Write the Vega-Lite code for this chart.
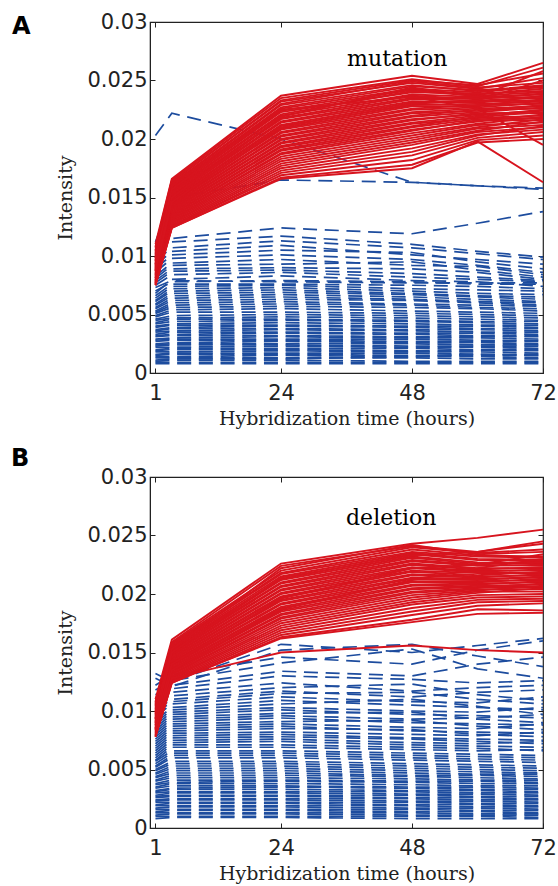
{
"$schema":"https://vega.github.io/schema/vega-lite/v6.json",
"background":"white",
"padding":{"left":10,"top":10,"right":2,"bottom":0},
"spacing":16,
"datasets":{
"times":[{"key":"a","t":1},{"key":"b","t":4},{"key":"c","t":24},{"key":"d","t":48},{"key":"e","t":60},{"key":"f","t":72}],
"Ared":[
{"i":1,"a":0.0110,"b":0.0166,"c":0.0237,"d":0.0254,"e":0.0247,"f":0.0265},
{"i":2,"a":0.0108,"b":0.0165,"c":0.0235,"d":0.0251,"e":0.0245,"f":0.0261},
{"i":3,"a":0.0107,"b":0.0163,"c":0.0233,"d":0.0250,"e":0.0246,"f":0.0256},
{"i":4,"a":0.0105,"b":0.0164,"c":0.0232,"d":0.0248,"e":0.0243,"f":0.0252},
{"i":5,"a":0.0104,"b":0.0162,"c":0.0230,"d":0.0249,"e":0.0244,"f":0.0248},
{"i":6,"a":0.0103,"b":0.0161,"c":0.0229,"d":0.0246,"e":0.0241,"f":0.0246},
{"i":7,"a":0.0102,"b":0.0160,"c":0.0227,"d":0.0245,"e":0.0242,"f":0.0244},
{"i":8,"a":0.0101,"b":0.0159,"c":0.0226,"d":0.0243,"e":0.0240,"f":0.0245},
{"i":9,"a":0.0100,"b":0.0158,"c":0.0224,"d":0.0242,"e":0.0238,"f":0.0243},
{"i":10,"a":0.0099,"b":0.0157,"c":0.0223,"d":0.0240,"e":0.0239,"f":0.0241},
{"i":11,"a":0.0098,"b":0.0156,"c":0.0221,"d":0.0241,"e":0.0237,"f":0.0240},
{"i":12,"a":0.0097,"b":0.0155,"c":0.0220,"d":0.0238,"e":0.0236,"f":0.0238},
{"i":13,"a":0.0096,"b":0.0154,"c":0.0218,"d":0.0237,"e":0.0234,"f":0.0239},
{"i":14,"a":0.0096,"b":0.0153,"c":0.0217,"d":0.0235,"e":0.0235,"f":0.0236},
{"i":15,"a":0.0095,"b":0.0152,"c":0.0215,"d":0.0234,"e":0.0233,"f":0.0235},
{"i":16,"a":0.0094,"b":0.0151,"c":0.0214,"d":0.0232,"e":0.0231,"f":0.0237},
{"i":17,"a":0.0093,"b":0.0150,"c":0.0212,"d":0.0231,"e":0.0232,"f":0.0233},
{"i":18,"a":0.0093,"b":0.0149,"c":0.0211,"d":0.0229,"e":0.0230,"f":0.0232},
{"i":19,"a":0.0092,"b":0.0148,"c":0.0209,"d":0.0228,"e":0.0228,"f":0.0234},
{"i":20,"a":0.0091,"b":0.0147,"c":0.0208,"d":0.0226,"e":0.0229,"f":0.0230},
{"i":21,"a":0.0090,"b":0.0146,"c":0.0206,"d":0.0225,"e":0.0227,"f":0.0231},
{"i":22,"a":0.0090,"b":0.0145,"c":0.0205,"d":0.0223,"e":0.0226,"f":0.0228},
{"i":23,"a":0.0089,"b":0.0144,"c":0.0203,"d":0.0222,"e":0.0224,"f":0.0229},
{"i":24,"a":0.0088,"b":0.0143,"c":0.0202,"d":0.0220,"e":0.0225,"f":0.0226},
{"i":25,"a":0.0087,"b":0.0142,"c":0.0200,"d":0.0219,"e":0.0223,"f":0.0227},
{"i":26,"a":0.0087,"b":0.0141,"c":0.0199,"d":0.0217,"e":0.0221,"f":0.0224},
{"i":27,"a":0.0086,"b":0.0140,"c":0.0197,"d":0.0216,"e":0.0222,"f":0.0222},
{"i":28,"a":0.0085,"b":0.0139,"c":0.0196,"d":0.0214,"e":0.0220,"f":0.0225},
{"i":29,"a":0.0084,"b":0.0138,"c":0.0194,"d":0.0213,"e":0.0218,"f":0.0220},
{"i":30,"a":0.0084,"b":0.0137,"c":0.0193,"d":0.0211,"e":0.0219,"f":0.0223},
{"i":31,"a":0.0083,"b":0.0136,"c":0.0191,"d":0.0210,"e":0.0217,"f":0.0218},
{"i":32,"a":0.0082,"b":0.0135,"c":0.0190,"d":0.0208,"e":0.0215,"f":0.0221},
{"i":33,"a":0.0081,"b":0.0134,"c":0.0188,"d":0.0207,"e":0.0216,"f":0.0216},
{"i":34,"a":0.0081,"b":0.0133,"c":0.0187,"d":0.0205,"e":0.0213,"f":0.0219},
{"i":35,"a":0.0080,"b":0.0132,"c":0.0185,"d":0.0203,"e":0.0212,"f":0.0214},
{"i":36,"a":0.0079,"b":0.0131,"c":0.0183,"d":0.0201,"e":0.0210,"f":0.0217},
{"i":37,"a":0.0079,"b":0.0130,"c":0.0181,"d":0.0199,"e":0.0209,"f":0.0212},
{"i":38,"a":0.0078,"b":0.0129,"c":0.0179,"d":0.0197,"e":0.0207,"f":0.0215},
{"i":39,"a":0.0078,"b":0.0128,"c":0.0177,"d":0.0195,"e":0.0206,"f":0.0210},
{"i":40,"a":0.0077,"b":0.0127,"c":0.0175,"d":0.0192,"e":0.0204,"f":0.0208},
{"i":41,"a":0.0077,"b":0.0126,"c":0.0173,"d":0.0189,"e":0.0203,"f":0.0211},
{"i":42,"a":0.0076,"b":0.0125,"c":0.0171,"d":0.0186,"e":0.0201,"f":0.0206},
{"i":43,"a":0.0076,"b":0.0125,"c":0.0169,"d":0.0182,"e":0.0199,"f":0.0203},
{"i":44,"a":0.0075,"b":0.0124,"c":0.0167,"d":0.0178,"e":0.0197,"f":0.0200},
{"i":45,"a":0.0075,"b":0.0124,"c":0.0166,"d":0.0175,"e":0.0198,"f":0.0163},
{"i":46,"a":0.0092,"b":0.0150,"c":0.0219,"d":0.0244,"e":0.0236,"f":0.0258},
{"i":47,"a":0.0098,"b":0.0157,"c":0.0225,"d":0.0236,"e":0.0226,"f":0.0195},
{"i":48,"a":0.0088,"b":0.0146,"c":0.0210,"d":0.0230,"e":0.0233,"f":0.0250}
],
"Ablue":[
{"i":1,"a":0.0203,"b":0.0222,"c":0.0200,"d":0.0163,"e":0.0160,"f":0.0157},
{"i":2,"a":0.0112,"b":0.0150,"c":0.0165,"d":0.0163,"e":0.0160,"f":0.0158},
{"i":3,"a":0.0105,"b":0.0115,"c":0.0124,"d":0.0119,"e":0.0128,"f":0.0138},
{"i":4,"a":0.0100,"b":0.0112,"c":0.0117,"d":0.0110,"e":0.0104,"f":0.0099},
{"i":5,"a":0.0096,"b":0.0107,"c":0.0113,"d":0.0107,"e":0.0102,"f":0.0097},
{"i":6,"a":0.0092,"b":0.0104,"c":0.0109,"d":0.0101,"e":0.0097,"f":0.0093},
{"i":7,"a":0.0089,"b":0.0101,"c":0.0105,"d":0.0103,"e":0.0095,"f":0.0089},
{"i":8,"a":0.0086,"b":0.0098,"c":0.0101,"d":0.0097,"e":0.0092,"f":0.0086},
{"i":9,"a":0.0083,"b":0.0094,"c":0.0097,"d":0.0092,"e":0.0091,"f":0.0084},
{"i":10,"a":0.0081,"b":0.0092,"c":0.0093,"d":0.0095,"e":0.0088,"f":0.0082},
{"i":11,"a":0.0079,"b":0.0089,"c":0.0090,"d":0.0089,"e":0.0086,"f":0.0080},
{"i":12,"a":0.0077,"b":0.0087,"c":0.0088,"d":0.0085,"e":0.0082,"f":0.0079},
{"i":13,"a":0.0075,"b":0.0084,"c":0.0086,"d":0.0082,"e":0.0080,"f":0.0078},
{"i":14,"a":0.0073,"b":0.0079,"c":0.0078,"d":0.0077,"e":0.0077,"f":0.0077},
{"i":15,"a":0.0070,"b":0.0078,"c":0.0079,"d":0.0078,"e":0.0076,"f":0.0076},
{"i":16,"a":0.0068,"b":0.0080,"c":0.0083,"d":0.0079,"e":0.0078,"f":0.0074},
{"i":17,"a":0.0066,"b":0.0076,"c":0.0076,"d":0.0075,"e":0.0074,"f":0.0072},
{"i":18,"a":0.0064,"b":0.0074,"c":0.0075,"d":0.0072,"e":0.0071,"f":0.0070},
{"i":19,"a":0.0062,"b":0.0072,"c":0.0073,"d":0.0070,"e":0.0068,"f":0.0067},
{"i":20,"a":0.0061,"b":0.0070,"c":0.0071,"d":0.0068,"e":0.0066,"f":0.0065},
{"i":21,"a":0.0059,"b":0.0068,"c":0.0069,"d":0.0067,"e":0.0065,"f":0.0063},
{"i":22,"a":0.0058,"b":0.0066,"c":0.0067,"d":0.0065,"e":0.0063,"f":0.0061},
{"i":23,"a":0.0056,"b":0.0064,"c":0.0065,"d":0.0063,"e":0.0061,"f":0.0060},
{"i":24,"a":0.0055,"b":0.0062,"c":0.0063,"d":0.0062,"e":0.0060,"f":0.0058},
{"i":25,"a":0.0053,"b":0.0060,"c":0.0061,"d":0.0059,"e":0.0058,"f":0.0057},
{"i":26,"a":0.0052,"b":0.0058,"c":0.0059,"d":0.0058,"e":0.0056,"f":0.0055},
{"i":27,"a":0.0051,"b":0.0056,"c":0.0057,"d":0.0056,"e":0.0055,"f":0.0053},
{"i":28,"a":0.0049,"b":0.0054,"c":0.0055,"d":0.0053,"e":0.0052,"f":0.0051},
{"i":29,"a":0.0048,"b":0.0052,"c":0.0052,"d":0.0051,"e":0.0050,"f":0.0049},
{"i":30,"a":0.0046,"b":0.0049,"c":0.0050,"d":0.0049,"e":0.0048,"f":0.0047},
{"i":31,"a":0.0045,"b":0.0047,"c":0.0048,"d":0.0047,"e":0.0046,"f":0.0045},
{"i":32,"a":0.0043,"b":0.0046,"c":0.0046,"d":0.0045,"e":0.0044,"f":0.0044},
{"i":33,"a":0.0042,"b":0.0044,"c":0.0045,"d":0.0044,"e":0.0043,"f":0.0042},
{"i":34,"a":0.0040,"b":0.0042,"c":0.0043,"d":0.0042,"e":0.0041,"f":0.0041},
{"i":35,"a":0.0039,"b":0.0041,"c":0.0041,"d":0.0040,"e":0.0040,"f":0.0039},
{"i":36,"a":0.0037,"b":0.0039,"c":0.0040,"d":0.0039,"e":0.0038,"f":0.0038},
{"i":37,"a":0.0036,"b":0.0038,"c":0.0038,"d":0.0037,"e":0.0037,"f":0.0036},
{"i":38,"a":0.0035,"b":0.0036,"c":0.0037,"d":0.0036,"e":0.0035,"f":0.0035},
{"i":39,"a":0.0033,"b":0.0035,"c":0.0035,"d":0.0034,"e":0.0034,"f":0.0033},
{"i":40,"a":0.0032,"b":0.0033,"c":0.0034,"d":0.0033,"e":0.0032,"f":0.0032},
{"i":41,"a":0.0031,"b":0.0032,"c":0.0032,"d":0.0031,"e":0.0031,"f":0.0031},
{"i":42,"a":0.0029,"b":0.0030,"c":0.0031,"d":0.0030,"e":0.0030,"f":0.0029},
{"i":43,"a":0.0028,"b":0.0029,"c":0.0029,"d":0.0029,"e":0.0028,"f":0.0028},
{"i":44,"a":0.0027,"b":0.0028,"c":0.0028,"d":0.0027,"e":0.0027,"f":0.0027},
{"i":45,"a":0.0025,"b":0.0026,"c":0.0027,"d":0.0026,"e":0.0026,"f":0.0025},
{"i":46,"a":0.0024,"b":0.0025,"c":0.0025,"d":0.0025,"e":0.0024,"f":0.0024},
{"i":47,"a":0.0023,"b":0.0024,"c":0.0024,"d":0.0023,"e":0.0023,"f":0.0023},
{"i":48,"a":0.0022,"b":0.0022,"c":0.0023,"d":0.0022,"e":0.0022,"f":0.0021},
{"i":49,"a":0.0020,"b":0.0021,"c":0.0021,"d":0.0021,"e":0.0020,"f":0.0020},
{"i":50,"a":0.0019,"b":0.0020,"c":0.0020,"d":0.0019,"e":0.0019,"f":0.0019},
{"i":51,"a":0.0018,"b":0.0018,"c":0.0019,"d":0.0018,"e":0.0018,"f":0.0017},
{"i":52,"a":0.0016,"b":0.0017,"c":0.0017,"d":0.0017,"e":0.0016,"f":0.0016},
{"i":53,"a":0.0015,"b":0.0016,"c":0.0016,"d":0.0015,"e":0.0015,"f":0.0015},
{"i":54,"a":0.0014,"b":0.0014,"c":0.0015,"d":0.0014,"e":0.0014,"f":0.0013},
{"i":55,"a":0.0013,"b":0.0013,"c":0.0013,"d":0.0013,"e":0.0012,"f":0.0012},
{"i":56,"a":0.0011,"b":0.0012,"c":0.0012,"d":0.0014,"e":0.0016,"f":0.0015},
{"i":57,"a":0.0010,"b":0.0011,"c":0.0011,"d":0.0010,"e":0.0010,"f":0.0010},
{"i":58,"a":0.0009,"b":0.0009,"c":0.0009,"d":0.0009,"e":0.0009,"f":0.0009},
{"i":59,"a":0.0008,"b":0.0008,"c":0.0008,"d":0.0008,"e":0.0008,"f":0.0008}
],
"Bred":[
{"i":1,"a":0.0110,"b":0.0161,"c":0.0226,"d":0.0243,"e":0.0248,"f":0.0255},
{"i":2,"a":0.0108,"b":0.0159,"c":0.0224,"d":0.0241,"e":0.0236,"f":0.0243},
{"i":3,"a":0.0107,"b":0.0158,"c":0.0220,"d":0.0240,"e":0.0235,"f":0.0238},
{"i":4,"a":0.0106,"b":0.0157,"c":0.0218,"d":0.0238,"e":0.0233,"f":0.0232},
{"i":5,"a":0.0105,"b":0.0156,"c":0.0217,"d":0.0236,"e":0.0232,"f":0.0231},
{"i":6,"a":0.0104,"b":0.0155,"c":0.0215,"d":0.0235,"e":0.0230,"f":0.0229},
{"i":7,"a":0.0103,"b":0.0154,"c":0.0213,"d":0.0234,"e":0.0229,"f":0.0228},
{"i":8,"a":0.0102,"b":0.0153,"c":0.0212,"d":0.0232,"e":0.0227,"f":0.0226},
{"i":9,"a":0.0101,"b":0.0152,"c":0.0210,"d":0.0231,"e":0.0226,"f":0.0227},
{"i":10,"a":0.0100,"b":0.0151,"c":0.0209,"d":0.0229,"e":0.0225,"f":0.0224},
{"i":11,"a":0.0099,"b":0.0150,"c":0.0207,"d":0.0228,"e":0.0224,"f":0.0225},
{"i":12,"a":0.0098,"b":0.0149,"c":0.0206,"d":0.0226,"e":0.0222,"f":0.0222},
{"i":13,"a":0.0097,"b":0.0148,"c":0.0204,"d":0.0225,"e":0.0221,"f":0.0223},
{"i":14,"a":0.0097,"b":0.0147,"c":0.0203,"d":0.0223,"e":0.0220,"f":0.0220},
{"i":15,"a":0.0096,"b":0.0146,"c":0.0201,"d":0.0222,"e":0.0219,"f":0.0221},
{"i":16,"a":0.0095,"b":0.0145,"c":0.0200,"d":0.0220,"e":0.0218,"f":0.0218},
{"i":17,"a":0.0094,"b":0.0144,"c":0.0198,"d":0.0219,"e":0.0216,"f":0.0219},
{"i":18,"a":0.0094,"b":0.0143,"c":0.0197,"d":0.0217,"e":0.0215,"f":0.0216},
{"i":19,"a":0.0093,"b":0.0142,"c":0.0195,"d":0.0216,"e":0.0214,"f":0.0217},
{"i":20,"a":0.0092,"b":0.0141,"c":0.0194,"d":0.0214,"e":0.0213,"f":0.0214},
{"i":21,"a":0.0091,"b":0.0140,"c":0.0192,"d":0.0213,"e":0.0212,"f":0.0215},
{"i":22,"a":0.0091,"b":0.0139,"c":0.0191,"d":0.0211,"e":0.0211,"f":0.0212},
{"i":23,"a":0.0090,"b":0.0138,"c":0.0189,"d":0.0210,"e":0.0210,"f":0.0213},
{"i":24,"a":0.0089,"b":0.0137,"c":0.0188,"d":0.0208,"e":0.0209,"f":0.0210},
{"i":25,"a":0.0088,"b":0.0136,"c":0.0186,"d":0.0207,"e":0.0208,"f":0.0211},
{"i":26,"a":0.0088,"b":0.0135,"c":0.0185,"d":0.0205,"e":0.0207,"f":0.0208},
{"i":27,"a":0.0087,"b":0.0134,"c":0.0183,"d":0.0204,"e":0.0206,"f":0.0206},
{"i":28,"a":0.0086,"b":0.0133,"c":0.0182,"d":0.0202,"e":0.0205,"f":0.0209},
{"i":29,"a":0.0085,"b":0.0132,"c":0.0180,"d":0.0201,"e":0.0204,"f":0.0204},
{"i":30,"a":0.0085,"b":0.0131,"c":0.0179,"d":0.0199,"e":0.0203,"f":0.0207},
{"i":31,"a":0.0084,"b":0.0130,"c":0.0177,"d":0.0197,"e":0.0202,"f":0.0202},
{"i":32,"a":0.0083,"b":0.0129,"c":0.0175,"d":0.0195,"e":0.0201,"f":0.0205},
{"i":33,"a":0.0082,"b":0.0128,"c":0.0173,"d":0.0193,"e":0.0199,"f":0.0200},
{"i":34,"a":0.0081,"b":0.0127,"c":0.0171,"d":0.0191,"e":0.0197,"f":0.0198},
{"i":35,"a":0.0080,"b":0.0126,"c":0.0169,"d":0.0188,"e":0.0195,"f":0.0196},
{"i":36,"a":0.0079,"b":0.0125,"c":0.0167,"d":0.0185,"e":0.0193,"f":0.0194},
{"i":37,"a":0.0079,"b":0.0124,"c":0.0165,"d":0.0182,"e":0.0190,"f":0.0192},
{"i":38,"a":0.0078,"b":0.0124,"c":0.0163,"d":0.0178,"e":0.0187,"f":0.0186},
{"i":39,"a":0.0078,"b":0.0125,"c":0.0162,"d":0.0176,"e":0.0183,"f":0.0184},
{"i":40,"a":0.0085,"b":0.0128,"c":0.0150,"d":0.0156,"e":0.0152,"f":0.0150},
{"i":41,"a":0.0099,"b":0.0153,"c":0.0222,"d":0.0242,"e":0.0234,"f":0.0236},
{"i":42,"a":0.0093,"b":0.0150,"c":0.0214,"d":0.0233,"e":0.0236,"f":0.0245},
{"i":43,"a":0.0090,"b":0.0140,"c":0.0196,"d":0.0222,"e":0.0225,"f":0.0234},
{"i":44,"a":0.0084,"b":0.0135,"c":0.0187,"d":0.0212,"e":0.0222,"f":0.0230}
],
"Bblue":[
{"i":1,"a":0.0132,"b":0.0125,"c":0.0157,"d":0.0150,"e":0.0156,"f":0.0162},
{"i":2,"a":0.0128,"b":0.0121,"c":0.0152,"d":0.0157,"e":0.0147,"f":0.0138},
{"i":3,"a":0.0122,"b":0.0131,"c":0.0146,"d":0.0140,"e":0.0152,"f":0.0160},
{"i":4,"a":0.0118,"b":0.0126,"c":0.0141,"d":0.0153,"e":0.0136,"f":0.0128},
{"i":5,"a":0.0114,"b":0.0122,"c":0.0134,"d":0.0130,"e":0.0140,"f":0.0146},
{"i":6,"a":0.0110,"b":0.0119,"c":0.0130,"d":0.0127,"e":0.0124,"f":0.0126},
{"i":7,"a":0.0106,"b":0.0116,"c":0.0124,"d":0.0117,"e":0.0120,"f":0.0122},
{"i":8,"a":0.0104,"b":0.0113,"c":0.0120,"d":0.0123,"e":0.0114,"f":0.0109},
{"i":9,"a":0.0101,"b":0.0110,"c":0.0117,"d":0.0112,"e":0.0116,"f":0.0118},
{"i":10,"a":0.0098,"b":0.0108,"c":0.0115,"d":0.0116,"e":0.0110,"f":0.0106},
{"i":11,"a":0.0095,"b":0.0106,"c":0.0112,"d":0.0108,"e":0.0107,"f":0.0112},
{"i":12,"a":0.0092,"b":0.0103,"c":0.0109,"d":0.0105,"e":0.0103,"f":0.0101},
{"i":13,"a":0.0090,"b":0.0101,"c":0.0106,"d":0.0110,"e":0.0104,"f":0.0097},
{"i":14,"a":0.0088,"b":0.0099,"c":0.0103,"d":0.0100,"e":0.0099,"f":0.0103},
{"i":15,"a":0.0086,"b":0.0097,"c":0.0101,"d":0.0097,"e":0.0096,"f":0.0094},
{"i":16,"a":0.0084,"b":0.0095,"c":0.0098,"d":0.0099,"e":0.0093,"f":0.0090},
{"i":17,"a":0.0082,"b":0.0093,"c":0.0096,"d":0.0093,"e":0.0094,"f":0.0097},
{"i":18,"a":0.0080,"b":0.0091,"c":0.0094,"d":0.0090,"e":0.0089,"f":0.0088},
{"i":19,"a":0.0078,"b":0.0089,"c":0.0091,"d":0.0092,"e":0.0087,"f":0.0084},
{"i":20,"a":0.0076,"b":0.0087,"c":0.0089,"d":0.0086,"e":0.0085,"f":0.0089},
{"i":21,"a":0.0074,"b":0.0085,"c":0.0087,"d":0.0083,"e":0.0082,"f":0.0081},
{"i":22,"a":0.0072,"b":0.0083,"c":0.0085,"d":0.0084,"e":0.0080,"f":0.0078},
{"i":23,"a":0.0070,"b":0.0081,"c":0.0082,"d":0.0080,"e":0.0079,"f":0.0082},
{"i":24,"a":0.0068,"b":0.0079,"c":0.0080,"d":0.0077,"e":0.0076,"f":0.0075},
{"i":25,"a":0.0066,"b":0.0077,"c":0.0078,"d":0.0076,"e":0.0074,"f":0.0072},
{"i":26,"a":0.0064,"b":0.0075,"c":0.0076,"d":0.0073,"e":0.0072,"f":0.0074},
{"i":27,"a":0.0062,"b":0.0073,"c":0.0074,"d":0.0071,"e":0.0070,"f":0.0069},
{"i":28,"a":0.0060,"b":0.0071,"c":0.0071,"d":0.0069,"e":0.0068,"f":0.0066},
{"i":29,"a":0.0058,"b":0.0069,"c":0.0069,"d":0.0067,"e":0.0066,"f":0.0067},
{"i":30,"a":0.0057,"b":0.0066,"c":0.0066,"d":0.0064,"e":0.0063,"f":0.0062},
{"i":31,"a":0.0055,"b":0.0064,"c":0.0064,"d":0.0062,"e":0.0061,"f":0.0060},
{"i":32,"a":0.0053,"b":0.0062,"c":0.0062,"d":0.0060,"e":0.0059,"f":0.0058},
{"i":33,"a":0.0052,"b":0.0060,"c":0.0060,"d":0.0058,"e":0.0057,"f":0.0056},
{"i":34,"a":0.0050,"b":0.0057,"c":0.0057,"d":0.0055,"e":0.0054,"f":0.0053},
{"i":35,"a":0.0049,"b":0.0055,"c":0.0055,"d":0.0053,"e":0.0052,"f":0.0051},
{"i":36,"a":0.0047,"b":0.0053,"c":0.0053,"d":0.0051,"e":0.0050,"f":0.0049},
{"i":37,"a":0.0046,"b":0.0051,"c":0.0051,"d":0.0049,"e":0.0048,"f":0.0047},
{"i":38,"a":0.0044,"b":0.0049,"c":0.0049,"d":0.0047,"e":0.0046,"f":0.0046},
{"i":39,"a":0.0043,"b":0.0047,"c":0.0047,"d":0.0045,"e":0.0045,"f":0.0044},
{"i":40,"a":0.0041,"b":0.0045,"c":0.0045,"d":0.0044,"e":0.0043,"f":0.0042},
{"i":41,"a":0.0040,"b":0.0043,"c":0.0043,"d":0.0042,"e":0.0041,"f":0.0041},
{"i":42,"a":0.0038,"b":0.0041,"c":0.0041,"d":0.0040,"e":0.0040,"f":0.0039},
{"i":43,"a":0.0037,"b":0.0039,"c":0.0040,"d":0.0039,"e":0.0038,"f":0.0038},
{"i":44,"a":0.0035,"b":0.0038,"c":0.0038,"d":0.0037,"e":0.0036,"f":0.0036},
{"i":45,"a":0.0034,"b":0.0036,"c":0.0036,"d":0.0035,"e":0.0035,"f":0.0034},
{"i":46,"a":0.0032,"b":0.0034,"c":0.0035,"d":0.0034,"e":0.0033,"f":0.0033},
{"i":47,"a":0.0031,"b":0.0033,"c":0.0033,"d":0.0032,"e":0.0032,"f":0.0031},
{"i":48,"a":0.0030,"b":0.0031,"c":0.0031,"d":0.0031,"e":0.0030,"f":0.0030},
{"i":49,"a":0.0028,"b":0.0030,"c":0.0030,"d":0.0029,"e":0.0029,"f":0.0028},
{"i":50,"a":0.0027,"b":0.0028,"c":0.0028,"d":0.0028,"e":0.0027,"f":0.0027},
{"i":51,"a":0.0026,"b":0.0027,"c":0.0027,"d":0.0026,"e":0.0026,"f":0.0025},
{"i":52,"a":0.0024,"b":0.0025,"c":0.0025,"d":0.0025,"e":0.0024,"f":0.0024},
{"i":53,"a":0.0023,"b":0.0024,"c":0.0024,"d":0.0023,"e":0.0023,"f":0.0022},
{"i":54,"a":0.0022,"b":0.0022,"c":0.0022,"d":0.0022,"e":0.0021,"f":0.0021},
{"i":55,"a":0.0020,"b":0.0021,"c":0.0021,"d":0.0020,"e":0.0020,"f":0.0019},
{"i":56,"a":0.0019,"b":0.0019,"c":0.0019,"d":0.0019,"e":0.0018,"f":0.0018},
{"i":57,"a":0.0017,"b":0.0018,"c":0.0018,"d":0.0017,"e":0.0017,"f":0.0016},
{"i":58,"a":0.0016,"b":0.0016,"c":0.0016,"d":0.0016,"e":0.0015,"f":0.0015},
{"i":59,"a":0.0014,"b":0.0015,"c":0.0015,"d":0.0014,"e":0.0014,"f":0.0013},
{"i":60,"a":0.0013,"b":0.0013,"c":0.0013,"d":0.0013,"e":0.0012,"f":0.0012},
{"i":61,"a":0.0011,"b":0.0012,"c":0.0012,"d":0.0011,"e":0.0011,"f":0.0011},
{"i":62,"a":0.0010,"b":0.0010,"c":0.0010,"d":0.0010,"e":0.0010,"f":0.0009},
{"i":63,"a":0.0008,"b":0.0009,"c":0.0009,"d":0.0008,"e":0.0008,"f":0.0008}
]
},
"vconcat":[
{
"width":393,"height":351,
"title":{"text":"A","dx":-138,"dy":32},
"layer":[
{"data":{"name":"Ablue"},
 "transform":[{"fold":["a","b","c","d","e","f"],"as":["key","v"]},{"lookup":"key","from":{"data":{"name":"times"},"key":"key","fields":["t"]}}],
 "mark":{"type":"line","stroke":"#1d4c9e","strokeWidth":1.7,"strokeDash":[14,7.7]},
 "encoding":{
  "x":{"field":"t","type":"quantitative","scale":{"domain":[0,72],"nice":false,"zero":false},"axis":{"values":[1,24,48,72],"format":"d","title":"Hybridization time (hours)","tickSize":-5,"labelPadding":14.5,"titlePadding":6}},
  "y":{"field":"v","type":"quantitative","scale":{"domain":[0,0.03],"nice":false},"axis":{"values":[0,0.005,0.01,0.015,0.02,0.025,0.03],"format":"~g","title":"Intensity","tickSize":-5,"labelPadding":8,"titlePadding":11}},
  "detail":{"field":"i"}}},
{"data":{"name":"Ared"},
 "transform":[{"fold":["a","b","c","d","e","f"],"as":["key","v"]},{"lookup":"key","from":{"data":{"name":"times"},"key":"key","fields":["t"]}}],
 "mark":{"type":"line","stroke":"#d7141e","strokeWidth":1.9},
 "encoding":{
  "x":{"field":"t","type":"quantitative","scale":{"domain":[0,72],"nice":false,"zero":false},"axis":null},
  "y":{"field":"v","type":"quantitative","scale":{"domain":[0,0.03],"nice":false},"axis":null},
  "detail":{"field":"i"}}},
{"data":{"values":[{"lab":"mutation","t":45.3,"v":0.0262}]},
 "mark":{"type":"text","font":"DejaVu Serif","fontSize":22,"baseline":"alphabetic","align":"center","color":"black"},
 "encoding":{
  "x":{"field":"t","type":"quantitative","scale":{"domain":[0,72],"nice":false,"zero":false},"axis":{"orient":"top","values":[1,24,48,72],"labels":false,"title":null,"domain":false,"tickSize":-5}},
  "y":{"field":"v","type":"quantitative","scale":{"domain":[0,0.03],"nice":false},"axis":{"orient":"right","values":[0,0.005,0.01,0.015,0.02,0.025,0.03],"labels":false,"title":null,"domain":false,"tickSize":-5}},
  "text":{"field":"lab"}}}
],
"resolve":{"axis":{"x":"independent","y":"independent"}}
},
{
"width":393,"height":351,
"title":{"text":"B","dx":-139,"dy":9},
"layer":[
{"data":{"name":"Bblue"},
 "transform":[{"fold":["a","b","c","d","e","f"],"as":["key","v"]},{"lookup":"key","from":{"data":{"name":"times"},"key":"key","fields":["t"]}}],
 "mark":{"type":"line","stroke":"#1d4c9e","strokeWidth":1.7,"strokeDash":[14,7.7]},
 "encoding":{
  "x":{"field":"t","type":"quantitative","scale":{"domain":[0,72],"nice":false,"zero":false},"axis":{"values":[1,24,48,72],"format":"d","title":"Hybridization time (hours)","tickSize":-5,"labelPadding":14.5,"titlePadding":6}},
  "y":{"field":"v","type":"quantitative","scale":{"domain":[0,0.03],"nice":false},"axis":{"values":[0,0.005,0.01,0.015,0.02,0.025,0.03],"format":"~g","title":"Intensity","tickSize":-5,"labelPadding":8,"titlePadding":11}},
  "detail":{"field":"i"}}},
{"data":{"name":"Bred"},
 "transform":[{"fold":["a","b","c","d","e","f"],"as":["key","v"]},{"lookup":"key","from":{"data":{"name":"times"},"key":"key","fields":["t"]}}],
 "mark":{"type":"line","stroke":"#d7141e","strokeWidth":1.9},
 "encoding":{
  "x":{"field":"t","type":"quantitative","scale":{"domain":[0,72],"nice":false,"zero":false},"axis":null},
  "y":{"field":"v","type":"quantitative","scale":{"domain":[0,0.03],"nice":false},"axis":null},
  "detail":{"field":"i"}}},
{"data":{"values":[{"lab":"deletion","t":44.2,"v":0.0259}]},
 "mark":{"type":"text","font":"DejaVu Serif","fontSize":22,"baseline":"alphabetic","align":"center","color":"black"},
 "encoding":{
  "x":{"field":"t","type":"quantitative","scale":{"domain":[0,72],"nice":false,"zero":false},"axis":{"orient":"top","values":[1,24,48,72],"labels":false,"title":null,"domain":false,"tickSize":-5}},
  "y":{"field":"v","type":"quantitative","scale":{"domain":[0,0.03],"nice":false},"axis":{"orient":"right","values":[0,0.005,0.01,0.015,0.02,0.025,0.03],"labels":false,"title":null,"domain":false,"tickSize":-5}},
  "text":{"field":"lab"}}}
],
"resolve":{"axis":{"x":"independent","y":"independent"}}
}
],
"config":{
"view":{"stroke":"#222222","strokeWidth":1.2},
"axis":{"labelFont":"DejaVu Sans","labelFontSize":21,"labelColor":"#222222","titleFont":"DejaVu Serif","titleFontSize":19,"titleFontWeight":"normal","titleColor":"#222222","domainColor":"#222222","tickColor":"#222222","grid":false,"labelFlush":false,"labelOverlap":false},
"title":{"font":"DejaVu Sans","fontSize":24,"fontWeight":"bold","color":"black","anchor":"start","frame":"group","offset":0,"baseline":"alphabetic"}
}
}
